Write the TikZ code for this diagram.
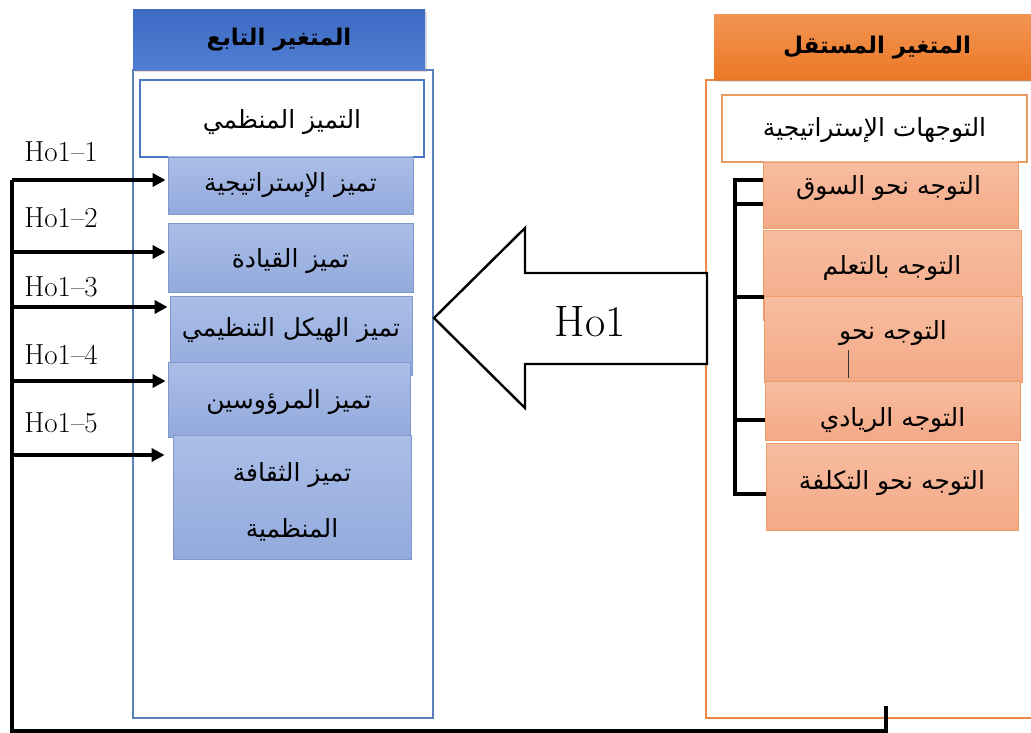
\documentclass[tikz,border=0pt]{standalone}
\usepackage{fontspec}
\newfontfamily\arabicfont[Script=Arabic]{DejaVu Sans}
\TeXXeTstate=1
\usetikzlibrary{arrows.meta,shadows}
\newcommand{\artxt}[1]{{\arabicfont\beginR #1\endR}}
\definecolor{hdrBlueTop}{HTML}{3D6BC4}
\definecolor{hdrBlueBot}{HTML}{507ED2}
\definecolor{hdrOrTop}{HTML}{F29452}
\definecolor{hdrOrBot}{HTML}{EC7826}
\definecolor{frameBlue}{HTML}{5A80BC}
\definecolor{innerBlue}{HTML}{4A76C6}
\definecolor{frameOr}{HTML}{EC8A45}
\definecolor{innerOr}{HTML}{E89A60}
\definecolor{subBlueTop}{HTML}{ABBEE7}
\definecolor{subBlueBot}{HTML}{93AADD}
\definecolor{subBlueLine}{HTML}{8098CE}
\definecolor{subOrTop}{HTML}{F7BDA0}
\definecolor{subOrBot}{HTML}{F3A986}
\definecolor{subOrLine}{HTML}{EE9C6A}
\tikzset{
  hdrL/.style={rectangle, minimum width=292pt, minimum height=60pt, inner sep=0pt,
    top color=hdrBlueTop, bottom color=hdrBlueBot,
    drop shadow={opacity=0.25, shadow xshift=2pt, shadow yshift=-2pt},
    font=\bfseries\fontsize{23}{26}\selectfont},
  hdrR/.style={rectangle, minimum width=326pt, minimum height=65pt, inner sep=0pt,
    top color=hdrOrTop, bottom color=hdrOrBot,
    drop shadow={opacity=0.25, shadow xshift=2pt, shadow yshift=-2pt},
    font=\bfseries\fontsize{23}{26}\selectfont},
  frameL/.style={rectangle, draw=frameBlue, line width=1.8pt, fill=white, inner sep=0pt},
  frameR/.style={rectangle, draw=frameOr, line width=1.8pt, fill=white, inner sep=0pt},
  innerL/.style={rectangle, draw=innerBlue, line width=2.2pt, fill=white, inner sep=0pt},
  innerR/.style={rectangle, draw=innerOr, line width=2.2pt, fill=white, inner sep=0pt},
  subL/.style={rectangle, draw=subBlueLine, line width=0.8pt, inner sep=0pt,
    top color=subBlueTop, bottom color=subBlueBot},
  subR/.style={rectangle, draw=subOrLine, line width=0.8pt, inner sep=0pt,
    top color=subOrTop, bottom color=subOrBot},
  txt/.style={inner sep=0pt, align=center, font=\fontsize{25}{28}\selectfont},
  hyp/.style={font=\fontsize{29}{32}\selectfont, anchor=center},
  feed/.style={line width=3.2pt, black},
  harrow/.style={feed, -{Triangle[length=13pt,width=13pt]}},
  brk/.style={line width=3.4pt, black},
  bigarrow/.style={line width=2.4pt, black, fill=white, line join=miter}
}
\begin{document}
\begin{tikzpicture}[x=1pt,y=-1pt]
\useasboundingbox (0,0) rectangle (1031,733);
\clip (0,0) rectangle (1031,733);
\fill[white] (0,0) rectangle (1031,733);

% ---------- left (dependent variable) ----------
\node[frameL, minimum width=300pt, minimum height=648pt] (fL) at (283,394) {};
\node[hdrL] (hL) at (279,40) {\artxt{المتغير التابع}};
\node[innerL, minimum width=284pt, minimum height=77pt] (iL) at (282,118.5) {};
\node[txt] (iLt) at ([yshift=-4pt]iL.center) {\artxt{التميز المنظمي}};
\node[subL, minimum width=245pt, minimum height=57pt] (s1) at (290.5,185.5) {};
\node[txt] (s1t) at (s1.center) {\artxt{تميز الإستراتيجية}};
\node[subL, minimum width=245pt, minimum height=69pt] (s2) at (290.5,257.5) {};
\node[txt] (s2t) at ([yshift=-4pt]s2.center) {\artxt{تميز القيادة}};
\node[subL, minimum width=242pt, minimum height=79pt] (s3) at (291,335.5) {};
\node[txt] (s3t) at ([yshift=5pt]s3.center) {\artxt{تميز الهيكل التنظيمي}};
\node[subL, minimum width=242pt, minimum height=75pt] (s4) at (289,399.5) {};
\node[txt] (s4t) at ([yshift=-3pt]s4.center) {\artxt{تميز المرؤوسين}};
\node[subL, minimum width=238pt, minimum height=124pt] (s5) at (292,497) {};
\node[txt] (s5t) at ([yshift=-5pt]s5.center) {\artxt{تميز الثقافة}\\[28pt]\artxt{المنظمية}};

% ---------- right (independent variable) ----------
\node[frameR, minimum width=334pt, minimum height=638pt] (fR) at (873,399) {};
\node[hdrR] (hR) at (877,47.5) {\artxt{المتغير المستقل}};
\node[innerR, minimum width=305pt, minimum height=67pt] (iR) at (874.5,128.5) {};
\node[txt] (iRt) at ([yshift=-1.5pt]iR.center) {\artxt{التوجهات الإستراتيجية}};
\node[subR, minimum width=255pt, minimum height=66pt] (r1) at (890.5,195) {};
\node[txt] (r1t) at ([xshift=-2pt,yshift=7pt]r1.center) {\artxt{التوجه نحو السوق}};
\node[subR, minimum width=258pt, minimum height=90pt] (r2) at (892,275) {};
\node[txt] (r2t) at ([yshift=7pt]r2.center) {\artxt{التوجه بالتعلم}};
\node[subR, minimum width=258pt, minimum height=86pt] (r3) at (893,339) {};
\node[txt] (r3t) at ([yshift=6pt]r3.center) {\artxt{التوجه نحو}};
\node[subR, minimum width=255pt, minimum height=59pt] (r4) at (892.5,410.5) {};
\node[txt] (r4t) at ([yshift=-10pt]r4.center) {\artxt{التوجه الريادي}};
\node[subR, minimum width=252pt, minimum height=87pt] (r5) at (892,486.5) {};
\node[txt] (r5t) at ([yshift=3pt]r5.center) {\artxt{التوجه نحو التكلفة}};
\draw[line width=0.9pt, black!80] (848,350) -- (848,378);

% bracket on the right
\coordinate (bT) at (735,180);
\coordinate (bB) at (735,494);
\draw[brk, line join=miter] (r1.west |- bT) -- (bT) -- (bB) -- (r5.west |- bB);
\draw[brk] (735,204) -- (r1.west |- 0,204);
\draw[brk] (735,297) -- (r3.west |- 0,297);
\draw[brk] (735,420) -- (r4.west |- 0,420);

% ---------- big arrow ----------
\draw[bigarrow] (707,273) -- (525,273) -- (525,228) -- (434,318) -- (525,408) -- (525,364) -- (707,364) -- cycle;
\node[font=\fontsize{44}{48}\selectfont] (ho1) at (590,322) {Ho1};

% ---------- feedback loop ----------
\coordinate (fbS) at (886,706);
\coordinate (fbC1) at (886,731);
\coordinate (fbC2) at (12,731);
\coordinate (fbT) at (12,180);
\draw[feed, line join=miter] (fbS) -- (fbC1) -- (fbC2) -- (fbT);
\draw[harrow] (fbT) -- ([xshift=-2pt]s1.west |- fbT);
\draw[harrow] (12,252) -- ([xshift=-2pt]s2.west |- 0,252);
\draw[harrow] (12,307) -- ([xshift=-2pt]s3.west |- 0,307);
\draw[harrow] (12,381) -- ([xshift=-2pt]s4.west |- 0,381);
\draw[harrow] (12,455) -- ([xshift=-8pt]s5.west |- 0,455);

% hypothesis labels
\node[hyp] (h1) at (61,152) {Ho1--1};
\node[hyp] (h2) at (61,218) {Ho1--2};
\node[hyp] (h3) at (61,287) {Ho1--3};
\node[hyp] (h4) at (61,355) {Ho1--4};
\node[hyp] (h5) at (61,423) {Ho1--5};
\end{tikzpicture}
\end{document}
